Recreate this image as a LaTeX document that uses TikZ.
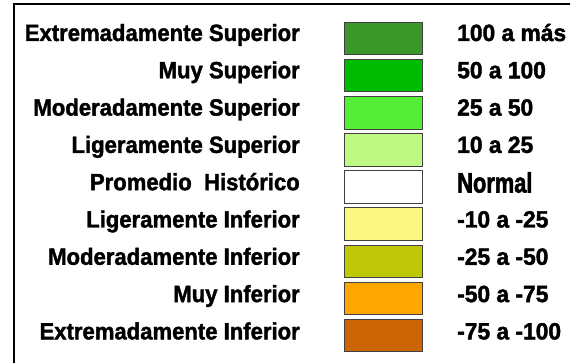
\documentclass[tikz,border=0pt]{standalone}
\usepackage{fontspec}
\newfontfamily\legfont[FakeStretch=0.94,FakeBold=1.6]{Liberation Sans}
\newfontfamily\numfont[FakeStretch=0.97,FakeBold=1.8]{Liberation Sans}
\newfontfamily\normfont[FakeStretch=0.78,FakeBold=2]{Liberation Sans}
\definecolor{c1}{RGB}{58,152,42}
\definecolor{c2}{RGB}{0,188,0}
\definecolor{c3}{RGB}{84,238,54}
\definecolor{c4}{RGB}{192,248,132}
\definecolor{c5}{RGB}{255,255,255}
\definecolor{c6}{RGB}{250,248,130}
\definecolor{c7}{RGB}{190,200,8}
\definecolor{c8}{RGB}{255,166,0}
\definecolor{c9}{RGB}{204,102,4}
\tikzset{
  lbl/.style={font=\legfont\bfseries\fontsize{23.5}{23.5}\selectfont, inner sep=0pt},
  leftlbl/.style={lbl, anchor=base east},
  rightlbl/.style={inner sep=0pt, font=\numfont\bfseries\fontsize{23.5}{23.5}\selectfont, anchor=base west},
  swatch/.style={draw=black!75, line width=0.8pt, minimum width=78pt, minimum height=32.5pt, inner sep=0pt, anchor=north west},
  frameline/.style={line width=2pt, black}
}
\begin{document}
\begin{tikzpicture}[x=1pt,y=-1pt]
\useasboundingbox (0,0) rectangle (570,363);
\coordinate (tl) at (14,4.5);
\coordinate (tr) at (570,4.5);
\coordinate (bl) at (14,363);
\draw[frameline] (tr) -- (tl) -- (bl);
\foreach \i/\col/\lt/\rt in {
  0/c1/Extremadamente Superior/100 a más,
  1/c2/Muy Superior/50 a 100,
  2/c3/Moderadamente Superior/25 a 50,
  3/c4/Ligeramente Superior/10 a 25,
  5/c6/Ligeramente Inferior/-10 a -25,
  6/c7/Moderadamente Inferior/-25 a -50,
  7/c8/Muy Inferior/-50 a -75,
  8/c9/Extremadamente Inferior/-75 a -100}{
  \node[swatch, fill=\col] (s\i) at (344, 21.7+37.16*\i) {};
  \node[leftlbl] (l\i) at (300, 41+37.3*\i) {\lt};
  \node[rightlbl] (r\i) at (457, 41+37.3*\i) {\rt};
}
\node[swatch, fill=c5] (s4) at (344, 170.3) {};
\node[leftlbl] (l4) at (300, 190.2) {Promedio\ \ Histórico};
\node[rightlbl, font=\normfont\bfseries\fontsize{28}{28}\selectfont] (r4) at (457, 192.5) {Normal};
\end{tikzpicture}
\end{document}
